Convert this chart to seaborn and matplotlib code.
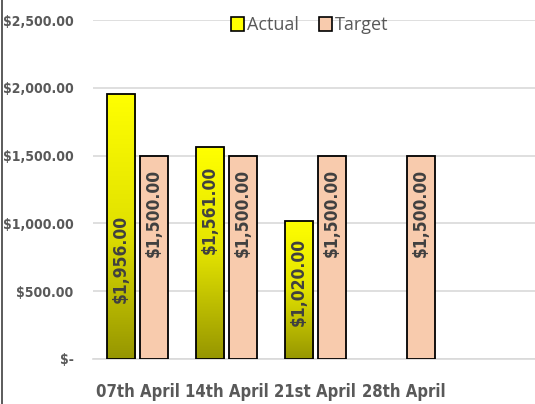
import numpy as np
import pandas as pd
import matplotlib
matplotlib.use("Agg")
import matplotlib.pyplot as plt
from matplotlib.colors import LinearSegmentedColormap
from matplotlib.patches import Patch
from matplotlib.ticker import FuncFormatter
from matplotlib import font_manager
import seaborn as sns

# ---- data ----
categories = ["07th April", "14th April", "21st April", "28th April"]
actual = [1956, 1561, 1020]           # 28th April has no actual
target = [1500, 1500, 1500, 1500]
actual_label_y = [737, 1099, 568]      # label centres as placed in the chart
target_label_y = [1077, 1077, 1077, 1077]

rows = []
for c, v in zip(categories, actual):
    rows.append({"week": c, "series": "Actual", "value": v})
for c, v in zip(categories, target):
    rows.append({"week": c, "series": "Target", "value": v})
df = pd.DataFrame(rows)

sns.set_style("white")
plt.rcParams["font.family"] = ["DejaVu Sans"]

BOLD = dict(family="DejaVu Sans", stretch="condensed", weight="bold")

GRAY = "#595959"
fig = plt.figure(figsize=(5.35, 4.04), dpi=100)
ax = fig.add_axes([93 / 535, 1 - 359 / 404, 1 - 93 / 535, (359 - 20) / 404])

sns.barplot(data=df, x="week", y="value", hue="series", order=categories,
            hue_order=["Actual", "Target"],
            palette={"Actual": "#FFFF00", "Target": "#F8CBAD"}, saturation=1,
            width=0.753, gap=0.16, edgecolor="black", linewidth=1.3,
            errorbar=None, legend=False, ax=ax, zorder=3)

ax.set_ylim(0, 2500)
ax.set_yticks([0, 500, 1000, 1500, 2000, 2500])

def money(v, pos=None):
    if v == 0:
        return "$-"
    return "${:,.2f}".format(v)

ax.yaxis.set_major_formatter(FuncFormatter(money))
ax.grid(axis="y", color="#D9D9D9", linewidth=1.2, zorder=0)
ax.set_axisbelow(True)
for s in ["top", "right", "left"]:
    ax.spines[s].set_visible(False)
ax.spines["bottom"].set_color("#D9D9D9")
ax.spines["bottom"].set_linewidth(1.2)
ax.tick_params(axis="y", length=0, pad=14, labelcolor=GRAY)
ax.tick_params(axis="x", length=0, pad=17, labelcolor=GRAY)
for t in ax.get_yticklabels():
    t.set_fontproperties(font_manager.FontProperties(size=10, **BOLD))
for t in ax.get_xticklabels():
    t.set_fontproperties(font_manager.FontProperties(size=12, **BOLD))
ax.set_xlabel("")
ax.set_ylabel("")

# gradient fill for Actual bars
cmap = LinearSegmentedColormap.from_list("g", ["#969600", "#E2E200", "#FFFF00"])
grad = np.linspace(0, 1, 256).reshape(-1, 1)
actual_patches = [p for p in ax.patches if p.get_height() > 0 and
                  np.allclose(p.get_facecolor()[:3], (1, 1, 0))]
for p in actual_patches:
    x0, y0 = p.get_x(), p.get_y()
    w, h = p.get_width(), p.get_height()
    im = ax.imshow(grad, cmap=cmap, origin="lower", aspect="auto",
                   extent=[x0, x0 + w, y0, y0 + h], zorder=3.5)
    im.set_clip_path(p)
    p.set_facecolor("none")
    p.set_zorder(4)
ax.set_xlim(-0.5, 4.47)
ax.set_ylim(0, 2500)

# value labels
slot = 0.753 / 2
for i, v in enumerate(actual):
    ax.text(i - slot / 2, actual_label_y[i], "${:,.2f}".format(v), rotation=90,
            ha="center", va="center", fontsize=12.5, color="#404040", zorder=6,
            **BOLD)
for i, v in enumerate(target):
    ax.text(i + slot / 2, target_label_y[i], "${:,.2f}".format(v), rotation=90,
            ha="center", va="center", fontsize=12.5, color="#404040", zorder=6,
            **BOLD)

handles = [Patch(facecolor="#FFFF00", edgecolor="black", linewidth=1.2, label="Actual"),
           Patch(facecolor="#F8CBAD", edgecolor="black", linewidth=1.2, label="Target")]
leg = fig.legend(handles=handles, loc="center", bbox_to_anchor=(310 / 535, 1 - 25 / 404),
                 ncol=2, frameon=False, handlelength=0.7,
                 handleheight=0.8, handletextpad=0.2, columnspacing=1.1,
                 labelcolor=GRAY, prop=dict(family="Open Sans", size=13))

# chart border on the left
fig.add_artist(plt.Line2D([2 / 535, 2 / 535], [0, 1], transform=fig.transFigure,
                          color="#404040", linewidth=1.2))

fig.savefig("out.png", dpi=100)
